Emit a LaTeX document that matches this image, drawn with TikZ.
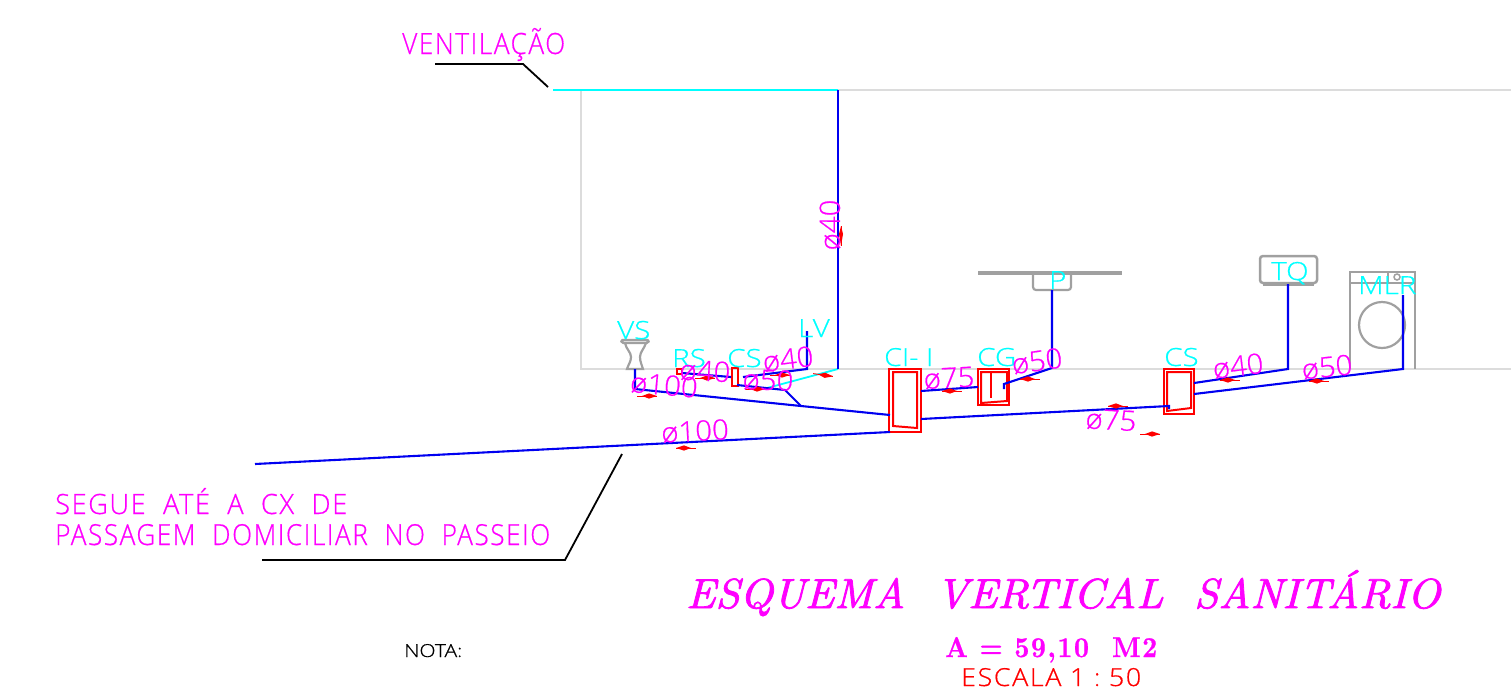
\documentclass[tikz,border=0pt]{standalone}
\usepackage{fontspec}
\usepackage{graphicx}
\setmainfont{Liberation Sans}
\newfontfamily\cad[FakeBold=0.6]{Open Sans Light}
\newfontfamily\cadsp[FakeBold=0.6,LetterSpace=6]{Open Sans Light}
\newfontfamily\titlef[FakeBold=1.8]{Latin Modern Roman}
\newfontfamily\areaf[FakeBold=0.8,LetterSpace=6]{Latin Modern Roman}
\definecolor{mag}{RGB}{255,0,255}
\definecolor{cy}{RGB}{0,255,255}
\definecolor{pipeb}{RGB}{0,0,240}
\definecolor{fx}{RGB}{220,220,220}
\definecolor{gy}{RGB}{160,160,160}
\tikzset{
 pipe/.style={draw=pipeb,line width=2.1pt},
 frameline/.style={draw=fx,line width=1.8pt},
 leader/.style={draw=black,line width=1.8pt},
 fixt/.style={draw=gy,line width=2.2pt},
 redbox/.style={draw=red,line width=2pt},
 lab/.style={inner sep=0pt,anchor=base west},
 cyanlab/.style={lab,text=cy,font=\cad\fontsize{25}{25}\selectfont},
 dia/.style={inner sep=0pt,anchor=center,text=mag,font=\cad\fontsize{28}{28}\selectfont},
 flow/.style={draw=red,line width=0.9pt},
 flowhead/.style={fill=red,draw=none},
}
\newcommand{\wdn}[1]{\scalebox{1.18}[1]{#1}}
\newcommand{\wdd}[1]{\scalebox{1.05}[1]{#1}}
\newcommand{\flowR}[2]{\draw[flow] (#1-10,#2)--(#1+10,#2);\fill[flowhead] (#1-5,#2)--(#1+2,#2-2.6)--(#1+10,#2)--(#1+2,#2+2.6)--cycle;}
\newcommand{\flowL}[2]{\draw[flow] (#1-10,#2)--(#1+10,#2);\fill[flowhead] (#1+5,#2)--(#1-2,#2-2.6)--(#1-10,#2)--(#1-2,#2+2.6)--cycle;}
\begin{document}
\begin{tikzpicture}[x=1pt,y=-1pt]
\useasboundingbox (0,0) rectangle (1511,689);
% frame
\draw[frameline] (1511,90)--(581,90)--(581,369)--(1511,369);
\draw[draw=cy,line width=1.8pt] (553,90)--(838,90);
% leaders
\coordinate (l1a) at (435,64); \coordinate (l1b) at (523,64); \coordinate (l1c) at (548,87);
\draw[leader] (l1a)--(l1b)--(l1c);
\coordinate (l2a) at (262,560); \coordinate (l2b) at (565,560); \coordinate (l2c) at (622,454);
\draw[leader] (l2a)--(l2b)--(l2c);
% fixtures
\draw[fixt,rounded corners=1.5pt,line width=2.4pt] (621,340)--(649,340)--(648,343)--(622,343)--cycle;
\draw[fixt] (625,343)..controls (626,349) and (631,352) .. (631,357)..controls (631,362) and (628,365) .. (627,369)--(643,369)..controls (642,365) and (640,362) .. (640,357)..controls (640,352) and (644,349) .. (646,343);
\draw[draw=gy,line width=3.5pt] (978,273)--(1122,273);
\draw[fixt,rounded corners=3pt] (1033,273)--(1033,290)--(1071,290)--(1071,273);
\draw[draw=gy,line width=2.5pt,rounded corners=3pt] (1260,256)--(1317,256)--(1317,283)--(1260,283)--cycle;
\draw[draw=gy,line width=3pt] (1263,284)--(1314,284);
\draw[fixt] (1350,369)--(1350,272)--(1415,272)--(1415,369);
\draw[fixt] (1350,283)--(1415,283);
\draw[fixt] (1388,272)--(1388,283);
\draw[fixt,line width=1.5pt] (1397,277) circle (3);
\draw[fixt] (1382,325) circle (23);
% boxes
\draw[redbox] (889,369) rectangle (921,432);
\draw[redbox] (893,372)--(917,372)--(917,428)--(893,426)--cycle;
\draw[redbox] (978,369) rectangle (1009,405);
\draw[redbox] (981,372)--(1007,372)--(1007,401)--(981,403)--cycle;
\draw[redbox,line width=2.4pt] (991,373)--(991,398);
\draw[redbox] (1164,369) rectangle (1194,414);
\draw[redbox] (1167,372)--(1191,372)--(1191,408)--(1167,411)--cycle;
\draw[redbox] (732,368) rectangle (738,386);
\draw[redbox] (677,369) rectangle (682,374);
% pipe junctions
\coordinate (vsTop) at (635,369); \coordinate (vsElbow) at (635,389);
\coordinate (tee) at (801,406); \coordinate (ciIn) at (890,415);
\coordinate (teeUp) at (785,390); \coordinate (csOut) at (737,385);
\coordinate (rsOut) at (682,373); \coordinate (csIn) at (731,377);
\coordinate (csOut2) at (743,377); \coordinate (lvElbow) at (807,369); \coordinate (lvTop) at (807,331);
\coordinate (ventTop) at (838,90); \coordinate (ventFoot) at (838,369); \coordinate (ventEnd) at (767,388);
\coordinate (mainEnd) at (255,464); \coordinate (ciOut) at (890,432);
\coordinate (ci75) at (921,391); \coordinate (cg75) at (978,387);
\coordinate (cgA) at (1004,389); \coordinate (cgB) at (1004,384); \coordinate (pElbow) at (1052,368); \coordinate (pTop) at (1052,290);
\coordinate (ci75b) at (921,419); \coordinate (cs75) at (1169,406); \coordinate (cs75b) at (1169,409);
\coordinate (cs40) at (1194,383); \coordinate (tqElbow) at (1288,369); \coordinate (tqTop) at (1288,284);
\coordinate (cs50) at (1194,394); \coordinate (mlrElbow) at (1403,369); \coordinate (mlrTop) at (1403,295);
% pipes
\draw[draw=cy,line width=1.8pt] (ventEnd)--(ventFoot);
\draw[pipe] (vsTop)--(vsElbow)--(tee)--(ciIn);
\draw[pipe] (tee)--(teeUp)--(csOut);
\draw[pipe] (rsOut)--(csIn);
\draw[pipe] (csOut2)--(lvElbow)--(lvTop);
\draw[pipe] (ventTop)--(ventFoot);
\draw[pipe] (mainEnd)--(ciOut);
\draw[pipe] (ci75)--(cg75);
\draw[pipe] (cgA)--(cgB)--(pElbow)--(pTop);
\draw[pipe] (ci75b)--(cs75)--(cs75b);
\draw[pipe] (cs40)--(tqElbow)--(tqTop);
\draw[pipe] (cs50)--(mlrElbow)--(mlrTop);
% flow arrows
\flowR{647}{396}
\flowR{705}{378}
\flowR{755}{389}
\flowR{780}{375}
\begin{scope}[rotate around={-8:(823,375)}]\flowR{823}{375}\end{scope}
\flowL{686}{448}
\flowL{952}{391}
\flowL{1030}{379}
\flowL{1118}{406}
\flowR{1150}{434}
\flowL{1230}{380}
\flowL{1319}{381}
\draw[flow] (841,226)--(841,246);
\fill[flowhead] (841,226)--(843,234)--(841,246)--(839,234)--cycle;
% cyan labels
\node[cyanlab] (tVS) at (617,339) {\wdn{VS}};
\node[cyanlab] (tRS) at (672,367) {\wdn{RS}};
\node[cyanlab] (tCS1) at (727,367) {\wdn{CS}};
\node[cyanlab] (tLV) at (798,337) {\wdn{LV}};
\node[cyanlab] (tCI) at (884,366) {\resizebox{49pt}{18pt}{CI- I}};
\node[cyanlab] (tCG) at (977,366) {\wdn{CG}};
\node[cyanlab] (tP) at (1049,289) {\wdn{P}};
\node[cyanlab] (tCS2) at (1164,366) {\wdn{CS}};
\node[cyanlab] (tTQ) at (1271,280) {\wdn{TQ}};
\node[cyanlab] (tMLR) at (1358,294) {\wdn{MLR}};
% diameter labels
\node[dia,rotate=-5] (d1) at (664,385) {\wdd{ø100}};
\node[dia,rotate=-3] (d2) at (705,371) {\wdd{ø40}};
\node[dia,rotate=-2] (d3) at (768,380) {\wdd{ø50}};
\node[dia,rotate=7] (d4) at (788,359) {\wdd{ø40}};
\node[dia,rotate=3] (d5) at (695,431) {\wdd{ø100}};
\node[dia,rotate=90] (d6) at (830,225) {\wdd{ø40}};
\node[dia,rotate=3] (d7) at (949,378) {\wdd{ø75}};
\node[dia,rotate=8] (d8) at (1037,361) {\wdd{ø50}};
\node[dia,rotate=-3] (d9) at (1111,420) {\wdd{ø75}};
\node[dia,rotate=7] (d10) at (1238,366) {\wdd{ø40}};
\node[dia,rotate=6] (d11) at (1327,367) {\wdd{ø50}};
% notes
\node[lab,text=mag] (vent) at (402,54) {\resizebox{163pt}{26pt}{\cadsp VENTILAÇÃO}};
\node[lab,text=mag] (seg1) at (55,514) {\resizebox{292pt}{26pt}{\cadsp SEGUE\ \ ATÉ\ \ A\ \ CX\ \ DE}};
\node[lab,text=mag] (seg2) at (55,545) {\resizebox{495pt}{21pt}{\cadsp PASSAGEM\ \ DOMICILIAR\ \ NO\ \ PASSEIO}};
\node[lab,text=black] (nota) at (404,657) {\resizebox{58pt}{13pt}{\cad NOTA:}};
\node[lab,text=mag] (title) at (686,608) {\resizebox{754pt}{38pt}{\titlef\itshape ESQUEMA\ \ VERTICAL\ \ SANITÁRIO}};
\node[lab,text=mag] (area) at (945,657) {\resizebox{212pt}{20pt}{\areaf\bfseries A = 59,10\ \ M2}};
\node[lab,text=red] (esc) at (961,686) {\resizebox{180pt}{18pt}{\cadsp ESCALA\ 1\ :\ 50}};
\end{tikzpicture}
\end{document}
